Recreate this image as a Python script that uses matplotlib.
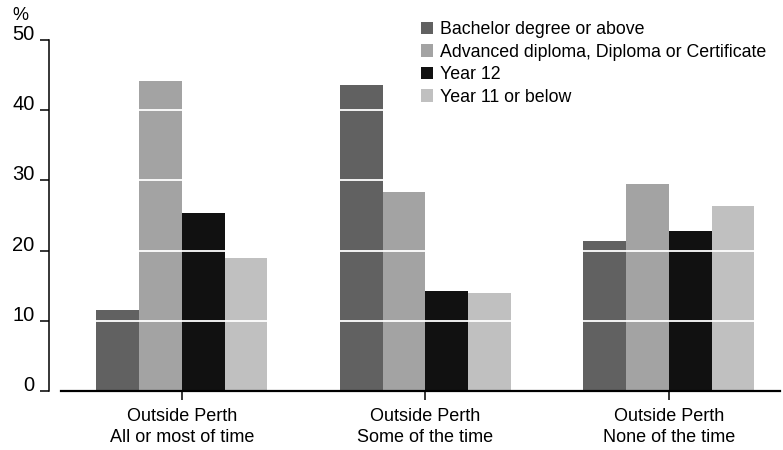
import matplotlib.pyplot as plt
import numpy as np
from matplotlib.patches import Patch

plt.rcParams['font.family'] = ['Liberation Sans', 'DejaVu Sans']

# data (%)
groups = ['Outside Perth\nAll or most of time',
          'Outside Perth\nSome of the time',
          'Outside Perth\nNone of the time']
series = ['Bachelor degree or above',
          'Advanced diploma, Diploma or Certificate',
          'Year 12',
          'Year 11 or below']
bachelor = [11.5, 43.6, 21.4]
advanced = [44.2, 28.3, 29.5]
year12 = [25.4, 14.2, 22.8]
year11 = [18.9, 14.0, 26.4]
yticks = [0, 10, 20, 30, 40, 50]

colors = ['#616161', '#a3a3a3', '#111111', '#c0c0c0']
values = [bachelor, advanced, year12, year11]

fig = plt.figure(figsize=(7.83, 4.5), dpi=100)
ax = fig.add_axes([49/783, 59/450, 731/783, 351/450])

x = np.arange(len(groups))
w = 0.1756
for i, (vals, col) in enumerate(zip(values, colors)):
    ax.bar(x + (i - 1.5)*w, vals, width=w, color=col, zorder=1, linewidth=0)

# white gridlines drawn over the bars
for t in yticks[1:-1]:
    ax.axhline(t, color='white', lw=1.3, zorder=2)

ax.set_xlim(-0.546, 2.456)
ax.set_ylim(0, 50)
ax.set_yticks(yticks)
ax.set_yticklabels([str(t) for t in yticks], fontsize=14.5, va='baseline')
ax.set_xticks(x)
ax.set_xticklabels(groups, fontsize=13, linespacing=1.3)

for s in ['top', 'right', 'bottom']:
    ax.spines[s].set_visible(False)
ax.spines['left'].set_linewidth(1.1)
ax.plot([-0.497, 2.456], [0, 0], color='black', lw=1.6, clip_on=False, zorder=3)
ax.tick_params(axis='y', length=6.5, width=1.1, pad=4)
ax.tick_params(axis='x', length=6.5, width=1.1, pad=6)

fig.text(12/783, 1 - 16/450, '%', fontsize=13, va='center', ha='left')

handles = [Patch(facecolor=c, edgecolor='none') for c in colors]
fig.legend(handles, series, loc='upper left', bbox_to_anchor=(421/783, 1 - 21/450),
           frameon=False, fontsize=12.8, handlelength=0.7, handleheight=0.7,
           handletextpad=0.35, labelspacing=0.31, borderaxespad=0, borderpad=0)

plt.savefig('out.png', dpi=100)
